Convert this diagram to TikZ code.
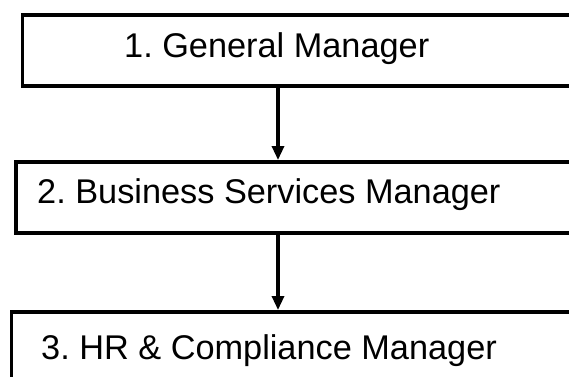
\documentclass[tikz,border=0pt]{standalone}
\usepackage{fontspec}
\setmainfont{Liberation Sans}
\usetikzlibrary{positioning}
\usetikzlibrary{arrows.meta}
\frenchspacing

\begin{document}
\begin{tikzpicture}[x=1pt,y=1pt,>={Triangle[width=12pt,length=14pt]},
                    role box/.style={draw,line width=3.5pt,anchor=north west,minimum width=600pt,minimum height=71pt,inner sep=0pt},
                    role/.style={anchor=base west,inner sep=0pt,font=\fontsize{34.3}{41}\selectfont}]
\useasboundingbox (0,0) rectangle (569,376);
\clip (0,0) rectangle (569,376);

\node[role box] (gmbox) at (20.5,363) {};
\node[role box] (bsbox) at (14,216) {};
\node[role box] (hrbox) at (9.5,66) {};

\node[role] (gm) at (124,319) {1. General Manager};
\node[role] (bs) at (37,173) {2. Business Services Manager};
\node[role] (hr) at (41,17) {3. HR \& Compliance Manager};

\coordinate (spine) at (278,0);

\draw[->,line width=3.2pt] (spine |- gmbox.south) -- (spine |- bsbox.north);
\draw[->,line width=3.2pt] (spine |- bsbox.south) -- (spine |- hrbox.north);

\end{tikzpicture}
\end{document}
